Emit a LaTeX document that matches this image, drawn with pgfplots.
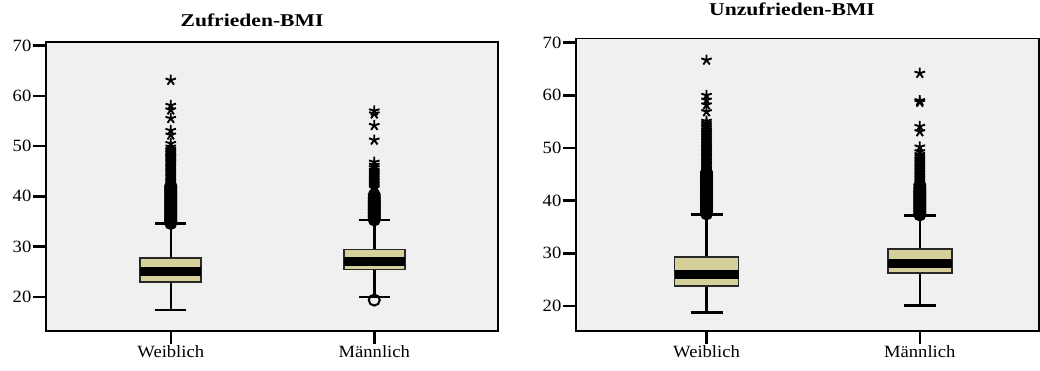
\documentclass[border=0pt]{standalone}
\usepackage{fontspec}
\setmainfont{Liberation Serif}[FakeStretch=1.08]
\newfontfamily\titlefont{Liberation Serif}[FakeStretch=1.2]
\usepackage{pgfplots}
\pgfplotsset{compat=1.18}
\usepgfplotslibrary{statistics}
\usetikzlibrary{plotmarks}
\definecolor{boxfill}{RGB}{212,207,155}
\definecolor{plotbg}{RGB}{240,240,240}
\definecolor{boxedge}{RGB}{40,40,40}

\pgfplotsset{
  spss/.style={
    scale only axis,
    axis background/.style={fill=plotbg},
    axis line style={line width=1.6bp, black},
    xtick={1,2}, xticklabels={Weiblich, Männlich},
    ytick={20,30,40,50,60,70},
    xtick pos=left, ytick pos=left,
    tick align=outside,
    major tick length=13bp,
    every tick/.style={line width=2.5bp, black},
    major tick style={line width=2.5bp, black},
    tick label style={font=\fontsize{17.2bp}{18bp}\selectfont, black},
    yticklabel style={inner sep=1.5bp},
    xticklabel style={inner sep=1bp},
    /pgf/number format/assume math mode=true,
    boxplot/draw direction=y,
    boxplot/box extend=0.30,
    boxplot/whisker extend=0.15,
    boxplot/every box/.style={fill=boxfill, draw=boxedge, line width=1.8bp},
    boxplot/every median/.style={line width=9bp, black},
    boxplot/every whisker/.style={line width=2.5bp, black},
  },
  circ/.style={only marks, mark=o, mark size=5.5bp, line width=2bp, black, mark options={fill=none}},
  starm/.style={only marks, mark=star, mark size=5.5bp, line width=1.9bp, black},
}

\begin{document}
\begin{tikzpicture}
\useasboundingbox (0,0) rectangle (1040bp,371bp);

% ---------------- left panel ----------------
\begin{axis}[spss, at={(46bp,40bp)}, anchor=south west,
  width=452bp, height=289bp,
  xmin=0.387, xmax=2.608, ymin=13.2, ymax=70.7]
\addplot[boxplot prepared={draw position=1, lower whisker=17.35,
  lower quartile=23.0, median=25.05, upper quartile=27.75, upper whisker=34.6}]
  coordinates {};
\addplot[boxplot prepared={draw position=2, lower whisker=20.0,
  lower quartile=25.45, median=27.1, upper quartile=29.4, upper whisker=35.25}]
  coordinates {};
% Weiblich outliers
\addplot[circ] coordinates {
 (1,34.6)(1,34.9)(1,35.2)(1,35.5)(1,35.8)(1,36.1)(1,36.4)(1,36.7)(1,37.0)(1,37.3)
 (1,37.6)(1,37.9)(1,38.2)(1,38.5)(1,38.8)(1,39.1)(1,39.4)(1,39.7)(1,40.0)(1,40.3)
 (1,40.6)(1,40.9)(1,41.2)(1,41.5)(1,41.8)(1,42.1)};
\addplot[starm] coordinates {
 (1,42.4)(1,42.65)(1,42.9)(1,43.15)(1,43.4)(1,43.65)(1,43.9)(1,44.15)(1,44.4)(1,44.65)
 (1,44.9)(1,45.15)(1,45.4)(1,45.65)(1,45.9)(1,46.15)(1,46.4)(1,46.65)(1,46.9)(1,47.15)
 (1,47.4)(1,47.65)(1,47.9)(1,48.15)(1,48.4)(1,48.7)(1,49.0)(1,49.3)(1,49.8)(1,50.5)
 (1,52.2)(1,53.1)(1,55.5)(1,57.2)(1,58.1)(1,63.1)};
% Maennlich outliers
\addplot[circ] coordinates {
 (2,19.35)
 (2,35.3)(2,35.6)(2,35.9)(2,36.2)(2,36.5)(2,36.8)(2,37.1)(2,37.4)(2,37.7)(2,38.0)
 (2,38.3)(2,38.6)(2,38.9)(2,39.2)(2,39.5)(2,39.8)(2,40.3)};
\addplot[starm] coordinates {
 (2,41.6)(2,41.9)(2,42.2)(2,42.5)(2,42.8)(2,43.1)(2,43.4)(2,43.7)(2,44.0)(2,44.3)
 (2,44.6)(2,44.9)(2,45.2)(2,45.7)(2,46.2)(2,46.8)(2,51.2)(2,54.1)(2,56.4)(2,57.0)};
\end{axis}

% ---------------- right panel ----------------
\begin{axis}[spss, at={(576bp,40bp)}, anchor=south west,
  width=463bp, height=292.3bp,
  xmin=0.388, xmax=2.559, ymin=15.25, ymax=70.76]
\addplot[boxplot prepared={draw position=1, lower whisker=18.8,
  lower quartile=23.85, median=25.95, upper quartile=29.36, upper whisker=37.4}]
  coordinates {};
\addplot[boxplot prepared={draw position=2, lower whisker=20.05,
  lower quartile=26.2, median=28.1, upper quartile=30.76, upper whisker=37.15}]
  coordinates {};
% Weiblich outliers
\addplot[circ] coordinates {
 (1,37.5)(1,37.8)(1,38.1)(1,38.4)(1,38.7)(1,39.0)(1,39.3)(1,39.6)(1,39.9)(1,40.2)
 (1,40.5)(1,40.8)(1,41.1)(1,41.4)(1,41.7)(1,42.0)(1,42.3)(1,42.6)(1,42.9)(1,43.2)
 (1,43.5)(1,43.8)(1,44.1)(1,44.4)(1,44.7)(1,45.0)(1,45.4)};
\addplot[starm] coordinates {
 (1,45.8)(1,46.05)(1,46.3)(1,46.55)(1,46.8)(1,47.05)(1,47.3)(1,47.55)(1,47.8)(1,48.05)
 (1,48.3)(1,48.55)(1,48.8)(1,49.05)(1,49.3)(1,49.55)(1,49.8)(1,50.05)(1,50.3)(1,50.55)
 (1,50.8)(1,51.1)(1,51.4)(1,51.7)(1,52.0)(1,52.3)(1,52.6)(1,52.9)(1,53.2)(1,53.5)
 (1,53.9)(1,54.3)(1,54.7)(1,55.1)(1,56.9)(1,58.2)(1,59.1)(1,60.0)(1,66.7)};
% Maennlich outliers
\addplot[circ] coordinates {
 (2,37.3)(2,37.6)(2,37.9)(2,38.2)(2,38.5)(2,38.8)(2,39.1)(2,39.4)(2,39.7)(2,40.0)
 (2,40.3)(2,40.6)(2,40.9)(2,41.2)(2,41.5)(2,41.8)(2,42.1)(2,42.5)(2,43.0)};
\addplot[starm] coordinates {
 (2,43.5)(2,43.8)(2,44.1)(2,44.4)(2,44.7)(2,45.0)(2,45.3)(2,45.6)(2,45.9)(2,46.2)
 (2,46.5)(2,46.8)(2,47.1)(2,47.4)(2,47.7)(2,48.0)(2,48.4)(2,48.8)(2,49.3)(2,50.2)
 (2,53.1)(2,54.1)(2,58.7)(2,59.0)(2,64.2)};
\end{axis}

% titles
\node[anchor=base, inner sep=0pt, font=\titlefont\bfseries\fontsize{18bp}{20bp}\selectfont]
  at (252bp,344.3bp) {Zufrieden-BMI};
\node[anchor=base, inner sep=0pt, font=\titlefont\bfseries\fontsize{18bp}{20bp}\selectfont]
  at (792bp,355.3bp) {Unzufrieden-BMI};
\end{tikzpicture}
\end{document}
